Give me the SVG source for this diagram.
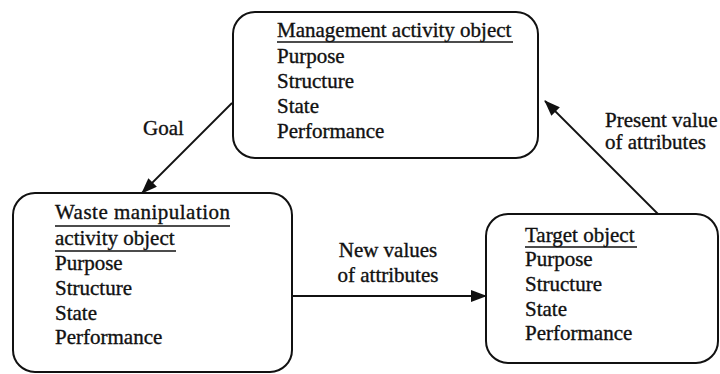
<svg xmlns="http://www.w3.org/2000/svg" width="720" height="374" viewBox="0 0 720 374">
  <style>
    .box { fill: #fff; stroke: #111; stroke-width: 2; }
    .t { font-family: 'Liberation Serif', 'Times New Roman', serif; font-size: 21px; fill: #111; stroke: #111; stroke-width: 0.35; }
    .ul { stroke: #111; stroke-width: 1.6; }
    .edge { stroke: #111; stroke-width: 1.8; fill: none; marker-end: url(#arrow); }
  </style>
  <defs>
    <marker id="arrow" viewBox="0 0 16 12" refX="15" refY="6" markerWidth="16" markerHeight="12" markerUnits="userSpaceOnUse" orient="auto">
      <path d="M0,0 L16,6 L0,12 Z" fill="#111"/>
    </marker>
  </defs>
  <rect width="720" height="374" fill="#fff"/>

  <g id="management">
    <rect class="box" x="233" y="12" width="305" height="146" rx="22"/>
    <text class="t" x="277" y="37">Management activity object</text>
    <line class="ul" x1="277" y1="42" x2="513" y2="42"/>
    <text class="t" x="277" y="63">Purpose</text>
    <text class="t" x="277" y="88">Structure</text>
    <text class="t" x="277" y="113">State</text>
    <text class="t" x="277" y="138">Performance</text>
  </g>

  <g id="waste">
    <rect class="box" x="13" y="193" width="279" height="179" rx="22"/>
    <text class="t" x="55" y="219" textLength="175">Waste manipulation</text>
    <line class="ul" x1="55" y1="226" x2="230" y2="226"/>
    <text class="t" x="55" y="245">activity object</text>
    <line class="ul" x1="55" y1="251" x2="176" y2="251"/>
    <text class="t" x="55" y="270">Purpose</text>
    <text class="t" x="55" y="295">Structure</text>
    <text class="t" x="55" y="320">State</text>
    <text class="t" x="55" y="344">Performance</text>
  </g>

  <g id="target">
    <rect class="box" x="486" y="214" width="232" height="149" rx="22"/>
    <text class="t" x="525" y="242">Target object</text>
    <line class="ul" x1="525" y1="247" x2="637" y2="247"/>
    <text class="t" x="525" y="266">Purpose</text>
    <text class="t" x="525" y="291">Structure</text>
    <text class="t" x="525" y="316">State</text>
    <text class="t" x="525" y="340">Performance</text>
  </g>

  <g id="connectors">
    <line class="edge" x1="232" y1="103" x2="142" y2="193"/>
    <text class="t" x="143" y="135">Goal</text>
    <line class="edge" x1="292" y1="296" x2="486" y2="296"/>
    <text class="t" x="388" y="257" text-anchor="middle">New values</text>
    <text class="t" x="388" y="282" text-anchor="middle">of attributes</text>
    <line class="edge" x1="658" y1="214" x2="545" y2="101"/>
    <text class="t" x="605" y="127">Present value</text>
    <text class="t" x="605" y="149">of attributes</text>
  </g>
</svg>
